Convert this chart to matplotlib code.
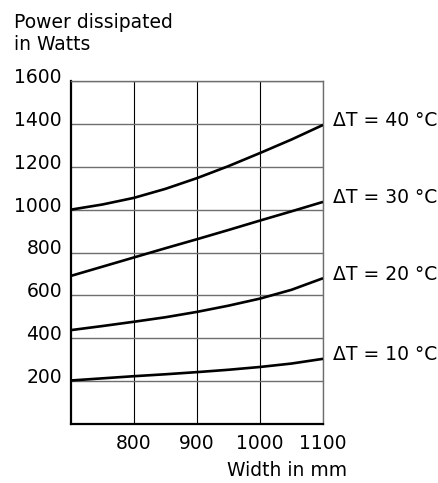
import matplotlib

matplotlib.use("Agg")
import matplotlib.pyplot as plt
from matplotlib.transforms import ScaledTranslation

plt.rcParams["font.family"] = ["DejaVu Sans"]
FS = 13.5

# strip width (mm) and dissipated power (W) per temperature rise
width_mm = [700, 750, 800, 850, 900, 950, 1000, 1050, 1100]
power_dt10 = [203, 213, 223, 232, 242, 253, 266, 282, 304]
power_dt20 = [438, 457, 477, 498, 523, 552, 585, 626, 680]
power_dt30 = [691, 734, 777, 820, 862, 905, 949, 992, 1036]
power_dt40 = [1000, 1024, 1055, 1097, 1147, 1203, 1264, 1327, 1395]
curve_labels = ["ΔT = 10 °C", "ΔT = 20 °C", "ΔT = 30 °C", "ΔT = 40 °C"]

y_ticks = [200, 400, 600, 800, 1000, 1200, 1400, 1600]
x_ticks = [800, 900, 1000, 1100]

W, H = 439, 483
fig = plt.figure(figsize=(W / 100, H / 100), dpi=100)
ax = fig.add_axes([71 / W, (H - 424) / H, 252 / W, 343 / H])

for series, label in zip([power_dt10, power_dt20, power_dt30, power_dt40], curve_labels):
    ax.plot(width_mm, series, color="black", linewidth=1.9, solid_capstyle="butt", zorder=3)
    ax.annotate(label, (width_mm[-1], series[-1]), xytext=(7.5, 3),
                textcoords="offset points", ha="left", va="center",
                fontsize=FS, annotation_clip=False)

ax.set_xlim(700, 1100)
ax.set_ylim(0, 1600)
ax.set_xticks(x_ticks)
ax.set_yticks(y_ticks)
ax.tick_params(length=0, labelsize=FS)
ax.tick_params(axis="x", pad=7.5)
ax.tick_params(axis="y", pad=6.5)

# y labels sit slightly above their gridlines
shift = ScaledTranslation(0, 5.5 / 100, fig.dpi_scale_trans)
for lbl in ax.get_yticklabels():
    lbl.set_transform(lbl.get_transform() + shift)

ax.xaxis.grid(True, color="black", linewidth=0.8)
ax.yaxis.grid(True, color="#6e6e6e", linewidth=1.0)
ax.set_axisbelow(True)

for side in ("left", "bottom"):
    ax.spines[side].set_color("black")
    ax.spines[side].set_linewidth(1.6)
for side in ("top", "right"):
    ax.spines[side].set_color("#6e6e6e")
    ax.spines[side].set_linewidth(1.0)

fig.text(14 / W, 1 - 22 / H, "Power dissipated", ha="left", va="center", fontsize=FS)
fig.text(14 / W, 1 - 44 / H, "in Watts", ha="left", va="center", fontsize=FS)
fig.text(347 / W, 1 - 470 / H, "Width in mm", ha="right", va="center", fontsize=FS)

fig.savefig("out.png", dpi=100)
